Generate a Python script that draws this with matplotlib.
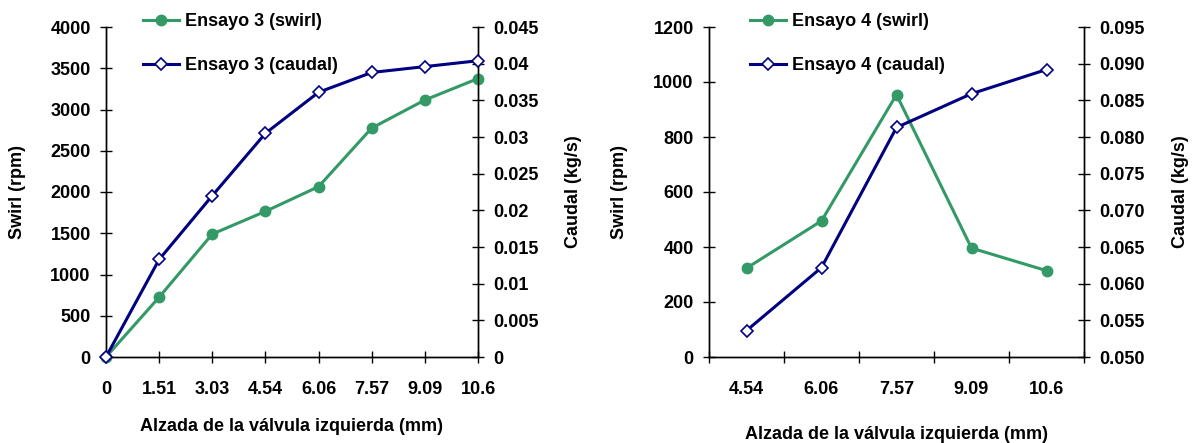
import matplotlib
matplotlib.use("Agg")
from matplotlib import pyplot as plt
from matplotlib import ticker

plt.rcParams['font.family'] = ['Liberation Sans', 'DejaVu Sans']
plt.rcParams['font.weight'] = 'bold'

# datos
alzada_3 = ["0", "1.51", "3.03", "4.54", "6.06", "7.57", "9.09", "10.6"]
swirl_3 = [0, 725, 1490, 1765, 2065, 2775, 3115, 3375]
caudal_3 = [0, 0.0133, 0.0220, 0.0305, 0.0361, 0.0388, 0.0396, 0.0404]

alzada_4 = ["4.54", "6.06", "7.57", "9.09", "10.6"]
swirl_4 = [323, 495, 954, 396, 314]
caudal_4 = [0.0536, 0.0622, 0.0813, 0.0859, 0.0892]

verde = '#339966'
azul = '#000080'
fs_tick = 13
fs_label = 13

W, H = 1195, 443
fig = plt.figure(figsize=(W / 100, H / 100), dpi=100)


def style_axis(ax):
    ax.spines['top'].set_visible(False)
    for s in ax.spines.values():
        s.set_linewidth(1.0)
    ax.tick_params(direction='inout', length=8, width=1, labelsize=fs_tick)


def draw(ax, labels, swirl, caudal, ylim, yticks, y2lim, y2ticks, y2fmt, ensayo, between, xlabel_y, leg_x):
    ax2 = ax.twinx()
    style_axis(ax)
    style_axis(ax2)
    xs = list(range(len(labels)))
    l1, = ax.plot(xs, swirl, color=verde, lw=2.2, marker='o', ms=7.5, clip_on=False, zorder=3,
                  label="Ensayo %d (swirl)" % ensayo)
    l2, = ax2.plot(xs, caudal, color=azul, lw=2.2, marker='D', ms=6.3, mfc='white', mec=azul, mew=1.2,
                   clip_on=False, zorder=3, label="Ensayo %d (caudal)" % ensayo)
    ax.set_ylim(*ylim)
    ax.set_yticks(yticks)
    ax2.set_ylim(*y2lim)
    ax2.set_yticks(y2ticks)
    ax2.yaxis.set_major_formatter(ticker.FuncFormatter(y2fmt))
    if between:
        ax.set_xlim(-0.5, len(labels) - 0.5)
        ax.set_xticks([i - 0.5 for i in range(len(labels) + 1)])
        ax.set_xticklabels([])
        ax.set_xticks(xs, minor=True)
        ax.set_xticklabels(labels, minor=True)
        ax.tick_params(axis='x', which='minor', length=0, pad=17, labelsize=fs_tick)
    else:
        ax.set_xlim(0, len(labels) - 1)
        ax.set_xticks(xs)
        ax.set_xticklabels(labels)
        ax.tick_params(axis='x', pad=13)
    ax.tick_params(axis='y', pad=7)
    ax2.tick_params(axis='y', pad=7)
    ax.set_xlabel("Alzada de la válvula izquierda (mm)", fontsize=fs_label, fontweight='bold')
    ax.xaxis.set_label_coords(0.5, xlabel_y)
    ax.set_ylabel("Swirl (rpm)", fontsize=fs_label, fontweight='bold')
    ax.yaxis.set_label_coords(-0.215, 0.5)
    ax2.set_ylabel("Caudal (kg/s)", fontsize=fs_label, fontweight='bold')
    ax2.yaxis.set_label_coords(1.234, 0.5)
    fig.legend(handles=[l1, l2], loc='upper left', bbox_to_anchor=(leg_x / W, 1 - 13 / H),
               frameon=False, fontsize=fs_label, handlelength=2.0, handletextpad=0.3,
               labelspacing=1.5, borderpad=0, borderaxespad=0)


ax_a = fig.add_axes([106 / W, 86 / H, 372 / W, 330 / H])
draw(ax_a, alzada_3, swirl_3, caudal_3, (0, 4000), range(0, 4001, 500),
     (0, 0.045), [i * 0.005 for i in range(10)], lambda v, p: ("%g" % round(v, 3)),
     3, False, -0.185, 143)

ax_b = fig.add_axes([709 / W, 86 / H, 375 / W, 330 / H])
draw(ax_b, alzada_4, swirl_4, caudal_4, (0, 1200), range(0, 1201, 200),
     (0.05, 0.095), [0.05 + i * 0.005 for i in range(10)], lambda v, p: "%.3f" % v,
     4, True, -0.209, 750)

fig.savefig("out.png", dpi=100)
